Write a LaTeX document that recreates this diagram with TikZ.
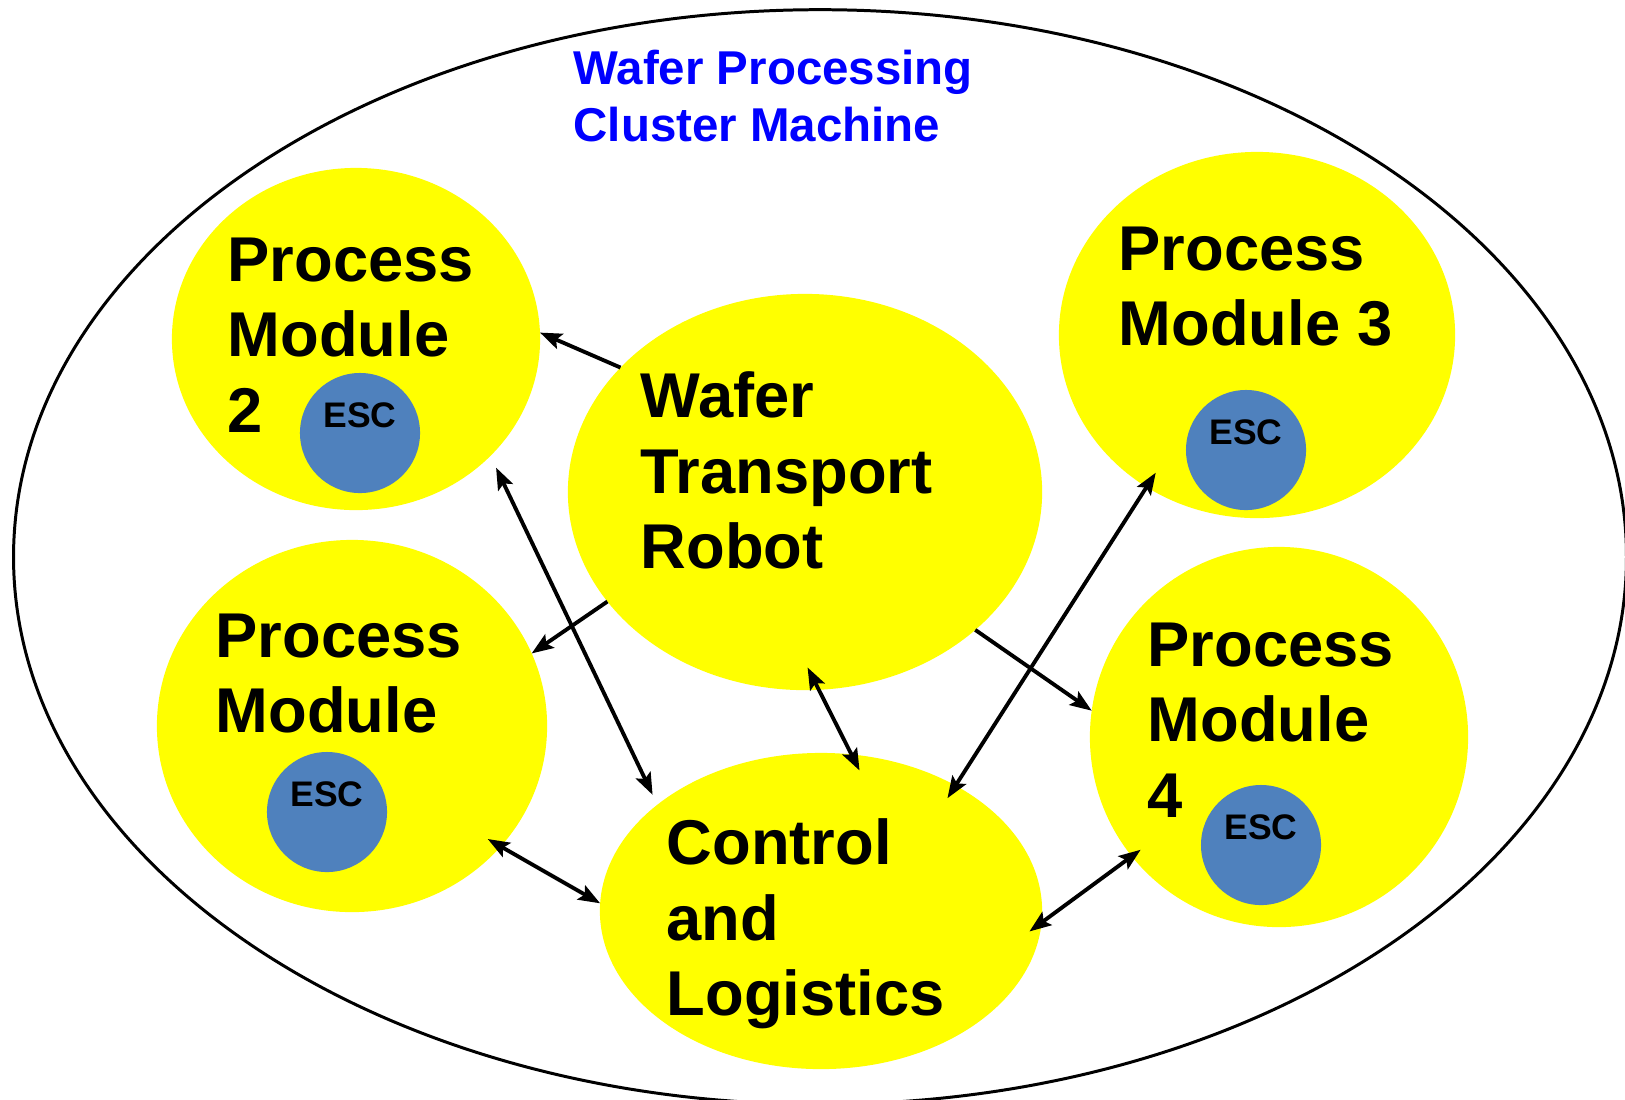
\documentclass[tikz,border=0pt]{standalone}
\usepackage{fontspec}
\setmainfont{Liberation Sans}
\usepackage{xcolor}
\usetikzlibrary{arrows.meta, shapes.geometric, positioning}

\definecolor{modyellow}{RGB}{255,255,0}
\definecolor{escblue}{RGB}{79,129,189}
\definecolor{titleblue}{RGB}{0,0,255}

\begin{document}
\begin{tikzpicture}[x=0.01cm, y=-0.01cm,
  >={Stealth[length=6.2pt, width=4.6pt, inset=1.2pt]},
  module/.style={ellipse, fill=modyellow, inner sep=0pt, outer sep=0pt},
  chuck/.style={circle, fill=escblue, minimum size=1.2cm, inner sep=0pt},
  bigtext/.style={anchor=north west, inner sep=0pt, align=left,
    font=\fontsize{18}{21.5}\selectfont\bfseries},
  esctext/.style={inner sep=0pt, font=\fontsize{10.1}{12}\selectfont\bfseries},
  link/.style={line width=1.1pt}]
  \useasboundingbox (0,0) rectangle (1625,1099);

  % the machine itself
  \draw[line width=0.85pt] (820,557) ellipse [x radius=8.06cm, y radius=5.47cm];
  \node[bigtext, text=titleblue, font=\fontsize{13.5}{16.2}\selectfont\bfseries]
    (title) at (573,49) {Wafer Processing\\Cluster Machine};

  % modules
  \node[module, minimum width=3.68cm, minimum height=3.42cm] (pmtwo) at (356,339) {};
  \node[module, minimum width=3.96cm, minimum height=3.66cm] (pmthree) at (1257,335) {};
  \node[module, minimum width=3.90cm, minimum height=3.72cm] (pmone) at (352,726) {};
  \node[module, minimum width=3.78cm, minimum height=3.80cm] (pmfour) at (1279,737) {};
  \node[module, minimum width=4.74cm, minimum height=3.96cm] (robot) at (805,492) {};
  \node[module, minimum width=4.42cm, minimum height=3.16cm] (ctrl) at (821,911) {};

  \node[bigtext] (pmtwotext) at (227,237) {Process\\Module\\2};
  \node[bigtext] (pmthreetext) at (1118,226) {Process\\Module 3};
  \node[bigtext] (pmonetext) at (215,613) {Process\\Module};
  \node[bigtext] (pmfourtext) at (1147,622) {Process\\Module\\4};
  \node[bigtext] (robottext) at (640,371) {Wafer\\Transport\\Robot};
  \node[bigtext] (ctrltext) at (666,818) {Control\\and\\Logistics};

  % chucks
  \node[chuck] (esctwo) at (360,433) {};
  \node[chuck] (escthree) at (1246,450) {};
  \node[chuck] (escone) at (327,812) {};
  \node[chuck] (escfour) at (1261,845) {};
  \node[esctext] (esctwotext) at ([yshift=0.18cm]esctwo.center) {ESC};
  \node[esctext] (escthreetext) at ([yshift=0.18cm]escthree.center) {ESC};
  \node[esctext] (esconetext) at ([yshift=0.18cm]escone.center) {ESC};
  \node[esctext] (escfourtext) at ([yshift=0.18cm]escfour.center) {ESC};

  % transport and control links
  \draw[link, ->] (robot.146.8) -- (pmtwo.2.7);
  \draw[link, ->] (robot.209.5) -- (pmone.22.9);
  \draw[link, ->] (robot.321.1) -- (pmfour.172.6);
  \draw[link, <->, shorten <=0.13cm, shorten >=0.11cm] (pmtwo.319.4) -- (ctrl.147);
  \draw[link, <->, shorten <=-0.25cm, shorten >=-0.18cm] (robot.274.3) -- (ctrl.79.4);
  \draw[link, <->, shorten <=-0.17cm, shorten >=-0.15cm] (pmthree.234.35) -- (ctrl.43.5);
  \draw[link, <->, shorten <=-0.15cm] (pmone.321.95) -- (ctrl.178.9);
  \draw[link, <->, shorten <=-0.15cm, shorten >=-0.11cm] (ctrl.357.5) -- (pmfour.219.86);
\end{tikzpicture}
\end{document}
